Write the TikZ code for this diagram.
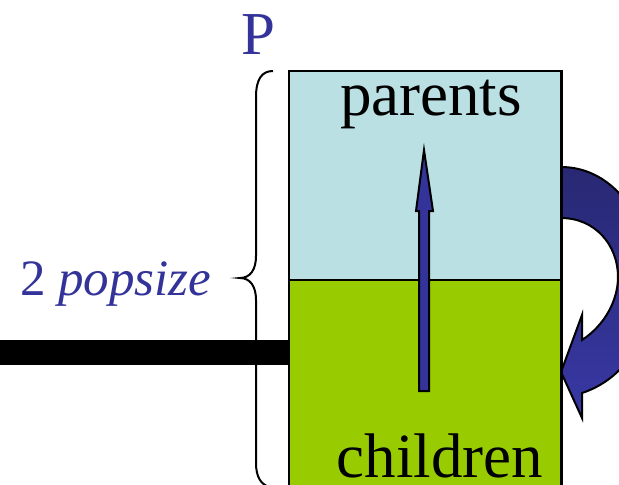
\documentclass[tikz,border=0pt]{standalone}
\usepackage{fontspec}
\setmainfont{Liberation Serif}
\definecolor{lblue}{RGB}{187,224,227}
\definecolor{lgreen}{RGB}{153,204,0}
\definecolor{dblue}{RGB}{51,51,153}
\definecolor{navytop}{RGB}{40,40,115}
\definecolor{navybot}{RGB}{56,56,165}
\tikzset{
  box/.style={draw=black, line width=2pt, inner sep=0pt, anchor=north west},
  bigtext/.style={font=\fontsize{63}{70}\selectfont, inner sep=0pt, anchor=base},
  bluetext/.style={text=dblue, inner sep=0pt},
  blockarrow/.style={draw=black, line width=2pt, line join=miter},
  bracestyle/.style={draw=black, line width=2pt}
}
\begin{document}
\begin{tikzpicture}[x=1pt, y=-1pt]
\useasboundingbox (0,0) rectangle (619,485);
\clip (0,0) rectangle (619,485);
% boxes
\node[box, fill=lblue, minimum width=272pt, minimum height=209pt] (top) at (288,70) {};
\node[box, fill=lgreen, minimum width=272pt, minimum height=230pt] (bot) at (288,279) {};
% texts
\node[bigtext] (parents) at (431,115) {parents};
\node[bigtext, text depth=0pt] (children) at (440,477) {children};
\node[bluetext, font=\fontsize{61}{70}\selectfont, anchor=base] (P) at (258,54) {P};
\node[bluetext, font=\fontsize{51}{60}\selectfont, anchor=base west] (pop) at (20,295) {2 \textit{popsize}};
% black bar
\coordinate (barstart) at (0,352.5);
\coordinate (barend) at (288,352.5);
\draw[line width=25pt] (barstart) -- (barend);
% brace
\path[bracestyle] (273,71) .. controls (262,71) and (256,79) .. (256,97) -- (256,256)
  .. controls (256,270) and (250,278) .. (240,278)
  .. controls (250,278) and (256,286) .. (256,300) -- (256,463)
  .. controls (256,477) and (261,485) .. (270,487);
% vertical block arrow
\path[blockarrow, fill=dblue] (419,391) -- (419,211) -- (416,211) -- (424,150) -- (433,211) -- (429,211) -- (429,391) -- cycle;
% curved block arrow
\path[blockarrow, top color=navytop, bottom color=navybot]
  (561,167) .. controls (615,167) and (652,222) .. (652,285)
  .. controls (652,340) and (622,380) .. (582,393)
  -- (582,418) -- (561,372) -- (582,315) -- (582,340)
  .. controls (605,325) and (618,300) .. (618,277)
  .. controls (618,245) and (595,218) .. (561,218) -- cycle;
\draw[line width=2pt] (top.north east) -- (bot.south east);
\end{tikzpicture}
\end{document}
